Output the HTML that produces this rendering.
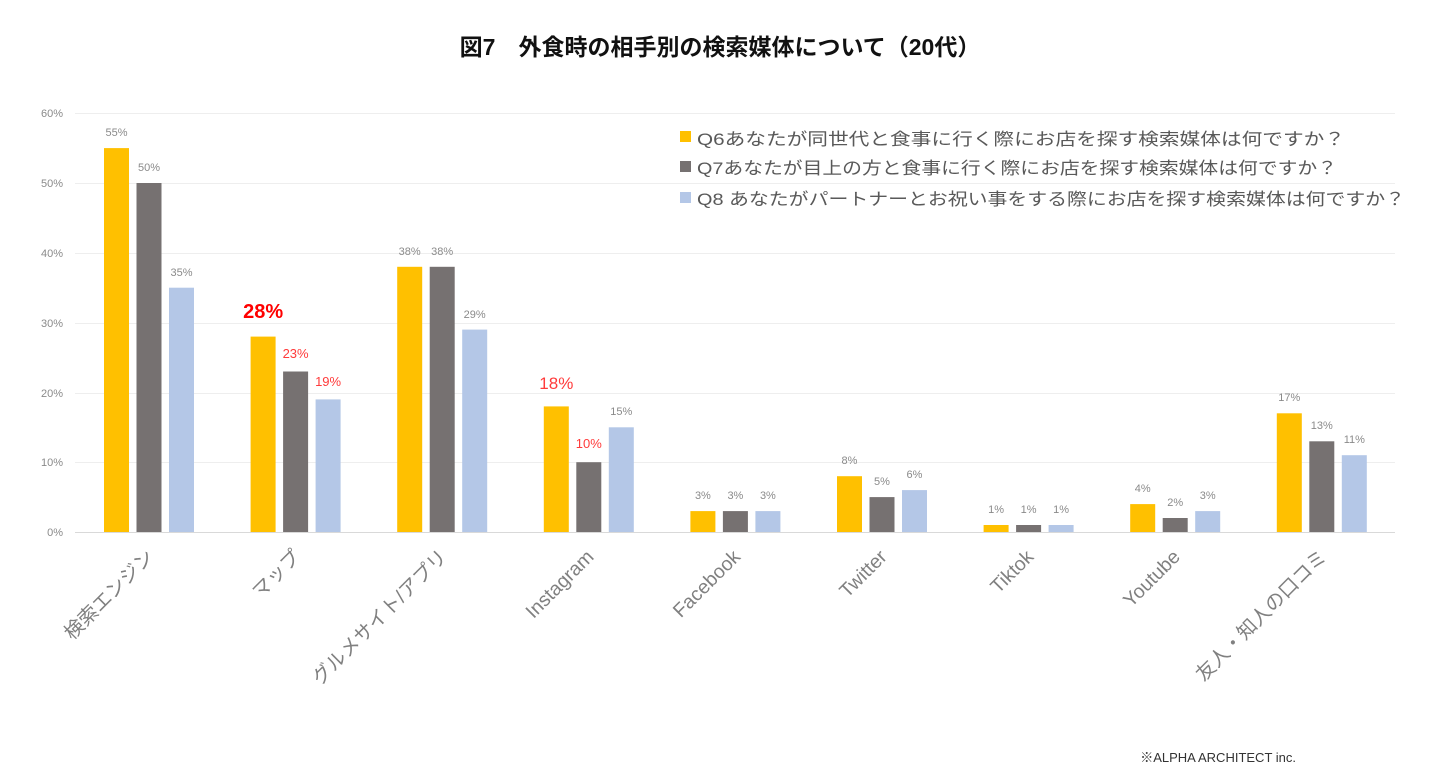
<!DOCTYPE html>
<html><head><meta charset="utf-8"><style>
html,body{margin:0;padding:0;background:#fff;}
svg{display:block;font-family:"Liberation Sans","Noto Sans CJK JP",sans-serif;}
</style></head><body>
<svg width="1440" height="768" viewBox="0 0 1440 768">
<text x="720" y="55" text-anchor="middle" font-size="23" font-weight="bold" fill="#111">図7　外食時の相手別の検索媒体について（20代）</text>
<g stroke="#eeeeee" stroke-width="1">
<line x1="75" y1="113.5" x2="1395" y2="113.5"/><line x1="75" y1="183.5" x2="1395" y2="183.5"/>
<line x1="75" y1="253.5" x2="1395" y2="253.5"/><line x1="75" y1="323.5" x2="1395" y2="323.5"/>
<line x1="75" y1="393.5" x2="1395" y2="393.5"/><line x1="75" y1="462.5" x2="1395" y2="462.5"/>
</g>
<line x1="75" y1="532.5" x2="1395" y2="532.5" stroke="#d9d9d9"/>
<g font-size="11" fill="#8a8a8a" text-anchor="end">
<text x="63" y="117">60%</text><text x="63" y="187">50%</text><text x="63" y="257">40%</text>
<text x="63" y="327">30%</text><text x="63" y="397">20%</text><text x="63" y="466">10%</text><text x="63" y="536">0%</text>
</g>
<g>
<rect x="104" y="148.1" width="25" height="383.9" fill="#ffc000"/><rect x="136.5" y="183" width="25" height="349" fill="#767171"/><rect x="169" y="287.7" width="25" height="244.3" fill="#b4c7e7"/>
<rect x="250.6" y="336.6" width="25" height="195.4" fill="#ffc000"/><rect x="283.1" y="371.5" width="25" height="160.5" fill="#767171"/><rect x="315.6" y="399.4" width="25" height="132.6" fill="#b4c7e7"/>
<rect x="397.2" y="266.8" width="25" height="265.2" fill="#ffc000"/><rect x="429.7" y="266.8" width="25" height="265.2" fill="#767171"/><rect x="462.2" y="329.6" width="25" height="202.4" fill="#b4c7e7"/>
<rect x="543.8" y="406.4" width="25" height="125.6" fill="#ffc000"/><rect x="576.3" y="462.2" width="25" height="69.8" fill="#767171"/><rect x="608.8" y="427.3" width="25" height="104.7" fill="#b4c7e7"/>
<rect x="690.4" y="511.1" width="25" height="20.9" fill="#ffc000"/><rect x="722.9" y="511.1" width="25" height="20.9" fill="#767171"/><rect x="755.4" y="511.1" width="25" height="20.9" fill="#b4c7e7"/>
<rect x="837" y="476.2" width="25" height="55.8" fill="#ffc000"/><rect x="869.5" y="497.1" width="25" height="34.9" fill="#767171"/><rect x="902" y="490.1" width="25" height="41.9" fill="#b4c7e7"/>
<rect x="983.6" y="525" width="25" height="7" fill="#ffc000"/><rect x="1016.1" y="525" width="25" height="7" fill="#767171"/><rect x="1048.6" y="525" width="25" height="7" fill="#b4c7e7"/>
<rect x="1130.2" y="504.1" width="25" height="27.9" fill="#ffc000"/><rect x="1162.7" y="518" width="25" height="14" fill="#767171"/><rect x="1195.2" y="511.1" width="25" height="20.9" fill="#b4c7e7"/>
<rect x="1276.8" y="413.3" width="25" height="118.7" fill="#ffc000"/><rect x="1309.3" y="441.3" width="25" height="90.7" fill="#767171"/><rect x="1341.8" y="455.2" width="25" height="76.8" fill="#b4c7e7"/>
</g>
<g font-size="11" fill="#8a8a8a" text-anchor="middle">
<text x="116.5" y="136">55%</text><text x="149" y="171">50%</text><text x="181.5" y="276">35%</text>
<text x="409.7" y="255">38%</text><text x="442.2" y="255">38%</text><text x="474.7" y="318">29%</text>
<text x="621.3" y="415">15%</text>
<text x="702.9" y="499">3%</text><text x="735.4" y="499">3%</text><text x="767.9" y="499">3%</text>
<text x="849.5" y="464">8%</text><text x="882" y="485">5%</text><text x="914.5" y="478">6%</text>
<text x="996.1" y="513">1%</text><text x="1028.6" y="513">1%</text><text x="1061.1" y="513">1%</text>
<text x="1142.7" y="492">4%</text><text x="1175.2" y="506">2%</text><text x="1207.7" y="499">3%</text>
<text x="1289.3" y="401">17%</text><text x="1321.8" y="429">13%</text><text x="1354.3" y="443">11%</text>
</g>
<g text-anchor="middle" fill="#ff3b3b">
<text x="263.1" y="318" font-size="20" font-weight="bold" fill="#ff0000">28%</text>
<text x="295.6" y="358" font-size="13">23%</text><text x="328.1" y="386" font-size="13">19%</text>
<text x="556.3" y="389" font-size="17">18%</text><text x="588.8" y="448" font-size="13">10%</text>
</g>
<g font-size="19.5" fill="#808080" text-anchor="end">
<text transform="translate(155,558) rotate(-45)">検索エンジン</text>
<text transform="translate(301.6,558) rotate(-45)">マップ</text>
<text transform="translate(448.2,558) rotate(-45)">グルメサイト/アプリ</text>
<text transform="translate(594.8,558) rotate(-45)">Instagram</text>
<text transform="translate(741.4,558) rotate(-45)">Facebook</text>
<text transform="translate(888,558) rotate(-45)">Twitter</text>
<text transform="translate(1034.6,558) rotate(-45)">Tiktok</text>
<text transform="translate(1181.2,558) rotate(-45)">Youtube</text>
<text transform="translate(1327.8,558) rotate(-45)">友人・知人の口コミ</text>
</g>
<g font-size="17" fill="#595959">
<rect x="680" y="131" width="11" height="11" fill="#ffc000"/>
<text x="697" y="145" textLength="648" lengthAdjust="spacingAndGlyphs">Q6あなたが同世代と食事に行く際にお店を探す検索媒体は何ですか？</text>
<rect x="680" y="161" width="11" height="11" fill="#767171"/>
<text x="697" y="174" textLength="640" lengthAdjust="spacingAndGlyphs">Q7あなたが目上の方と食事に行く際にお店を探す検索媒体は何ですか？</text>
<rect x="680" y="192" width="11" height="11" fill="#b4c7e7"/>
<text x="697" y="205" textLength="708" lengthAdjust="spacingAndGlyphs">Q8 あなたがパートナーとお祝い事をする際にお店を探す検索媒体は何ですか？</text>
</g>
<text x="1296" y="762" text-anchor="end" font-size="13" fill="#333">※ALPHA ARCHITECT inc.</text>
</svg>
</body></html>
